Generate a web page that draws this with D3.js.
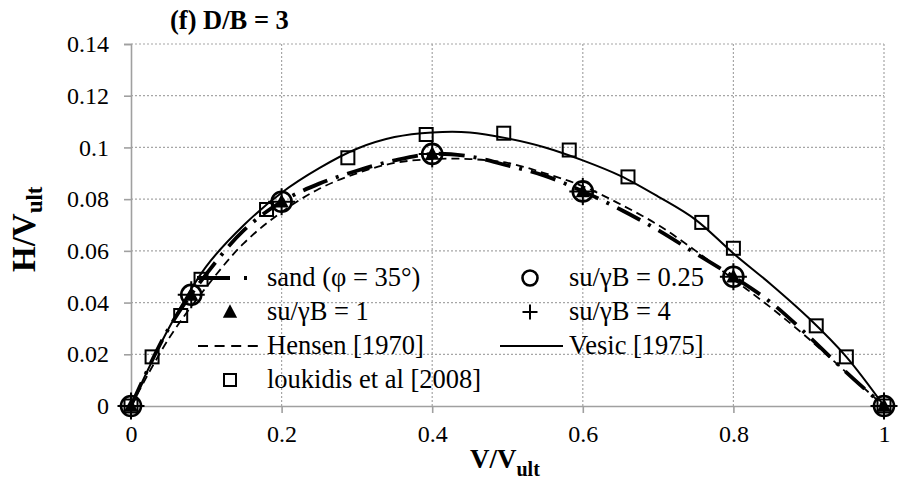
<!DOCTYPE html>
<html>
<head>
<meta charset="utf-8">
<script src="https://cdn.jsdelivr.net/npm/d3@7"></script>
<style>
  body { margin: 0; background: #fff; }
  svg text { font-family: "Liberation Serif", "Times New Roman", serif; }
</style>
</head>
<body>
<div id="chart"></div>
<script>
// datos
var xTicks = [0, 0.2, 0.4, 0.6, 0.8, 1];
var yTicks = [0, 0.02, 0.04, 0.06, 0.08, 0.1, 0.12, 0.14];

// puntos de los ensayos su/gammaB (mismas abscisas)
var suV = [0, 0.08, 0.2, 0.4, 0.6, 0.8, 1];
var su025 = [0, 0.043, 0.079, 0.0975, 0.083, 0.050, 0];
var su1 = [0, 0.043, 0.079, 0.0975, 0.083, 0.050, 0];
var su4 = [0, 0.043, 0.079, 0.0975, 0.083, 0.050, 0];

// curvas
var curveV = [0, 0.05, 0.1, 0.15, 0.2, 0.25, 0.3, 0.35, 0.4, 0.45, 0.5, 0.55, 0.6, 0.65, 0.7, 0.75, 0.8, 0.85, 0.9, 0.95, 1];
var sand = [0, 0.030, 0.051, 0.068, 0.079, 0.086, 0.091, 0.095, 0.0975, 0.0965, 0.093, 0.089, 0.083, 0.076, 0.068, 0.059, 0.050, 0.040, 0.027, 0.013, 0];
var hensen = [0, 0.026, 0.046, 0.063, 0.075, 0.084, 0.090, 0.094, 0.0955, 0.0955, 0.094, 0.090, 0.085, 0.078, 0.070, 0.060, 0.049, 0.038, 0.026, 0.013, 0];
var vesic = [0, 0.030, 0.054, 0.070, 0.0825, 0.092, 0.0995, 0.104, 0.1058, 0.1058, 0.1035, 0.100, 0.095, 0.089, 0.081, 0.072, 0.059, 0.047, 0.034, 0.019, 0];

// loukidis et al [2008]
var loukV = [0, 0.028, 0.066, 0.093, 0.18, 0.288, 0.392, 0.495, 0.582, 0.66, 0.758, 0.80, 0.91, 0.95, 1];
var loukH = [0, 0.019, 0.035, 0.049, 0.076, 0.096, 0.105, 0.1055, 0.099, 0.0886, 0.071, 0.061, 0.031, 0.019, 0];

var W = 902, H = 482;
var pLeft = 131, pRight = 884, pTop = 44, pBottom = 406;
var serif = "'Liberation Serif', 'Times New Roman', serif";

var svg = d3.select("#chart").append("svg")
    .attr("width", W)
    .attr("height", H);

svg.append("rect").attr("width", W).attr("height", H).attr("fill", "#fff");

var x = d3.scaleLinear().domain([0, 1]).range([pLeft, pRight]);
var y = d3.scaleLinear().domain([0, 0.14]).range([pBottom, pTop]);

var fmt = function(d) { return String(+d.toFixed(2)); };

// rejilla
svg.append("g").selectAll("line")
    .data(yTicks.filter(d => d > 0))
    .enter().append("line")
    .attr("x1", pLeft).attr("x2", pRight)
    .attr("y1", d => y(d)).attr("y2", d => y(d))
    .attr("stroke", "#a6a6a6").attr("stroke-width", 1.2)
    .attr("stroke-dasharray", "2,2");

svg.append("g").selectAll("line")
    .data(xTicks.filter(d => d > 0))
    .enter().append("line")
    .attr("x1", d => x(d)).attr("x2", d => x(d))
    .attr("y1", pTop).attr("y2", pBottom)
    .attr("stroke", "#a6a6a6").attr("stroke-width", 1.2)
    .attr("stroke-dasharray", "2,2");

// ejes
var xAxis = svg.append("g")
    .attr("transform", "translate(0," + pBottom + ")")
    .call(d3.axisBottom(x).tickValues(xTicks).tickFormat(fmt).tickSize(7).tickPadding(12));
var yAxis = svg.append("g")
    .attr("transform", "translate(" + pLeft + ",0)")
    .call(d3.axisLeft(y).tickValues(yTicks).tickFormat(fmt).tickSize(7).tickPadding(15));

[xAxis, yAxis].forEach(function(a) {
    a.attr("font-family", serif).attr("font-size", 24);
    a.select(".domain").attr("stroke", "#a0a0a0").attr("stroke-width", 1.6);
    a.selectAll(".tick line").attr("stroke", "#a0a0a0").attr("stroke-width", 1.6);
    a.selectAll("text").attr("fill", "#000");
});

// curvas
function pts(xs, ys) { return xs.map((v, i) => [v, ys[i]]); }
var line = d3.line().x(d => x(d[0])).y(d => y(d[1])).curve(d3.curveCatmullRom.alpha(0.5));

svg.append("path").datum(pts(curveV, vesic))
    .attr("d", line).attr("fill", "none")
    .attr("stroke", "#000").attr("stroke-width", 2);

svg.append("path").datum(pts(curveV, hensen))
    .attr("d", line).attr("fill", "none")
    .attr("stroke", "#000").attr("stroke-width", 1.8)
    .attr("stroke-dasharray", "8,5");

svg.append("path").datum(pts(curveV, sand))
    .attr("d", line).attr("fill", "none")
    .attr("stroke", "#000").attr("stroke-width", 3.8)
    .attr("stroke-dasharray", "26,9,3,9");

// marcadores
var sym = {
    circle: function(g, cx, cy, r) {
        g.append("circle").attr("cx", cx).attr("cy", cy).attr("r", r)
            .attr("fill", "none").attr("stroke", "#000").attr("stroke-width", 2.6);
    },
    triangle: function(g, cx, cy, s) {
        g.append("path")
            .attr("d", "M" + cx + "," + (cy - s * 0.6) + "L" + (cx + s * 0.55) + "," + (cy + s * 0.45) + "L" + (cx - s * 0.55) + "," + (cy + s * 0.45) + "Z")
            .attr("fill", "#000");
    },
    plus: function(g, cx, cy, s) {
        g.append("path")
            .attr("d", "M" + (cx - s) + "," + cy + "H" + (cx + s) + "M" + cx + "," + (cy - s) + "V" + (cy + s))
            .attr("stroke", "#000").attr("stroke-width", 2);
    },
    square: function(g, cx, cy, s) {
        g.append("rect").attr("x", cx - s / 2).attr("y", cy - s / 2)
            .attr("width", s).attr("height", s)
            .attr("fill", "none").attr("stroke", "#000").attr("stroke-width", 2);
    }
};

var mk = svg.append("g");
loukV.forEach(function(v, i) { sym.square(mk, x(v), y(loukH[i]), 13); });
suV.forEach(function(v, i) { sym.circle(mk, x(v), y(su025[i]), 10); });
suV.forEach(function(v, i) { sym.triangle(mk, x(v), y(su1[i]), 13); });
suV.forEach(function(v, i) { sym.plus(mk, x(v), y(su4[i]), 13.5); });

// leyenda
var lg = svg.append("g").attr("font-family", serif).attr("font-size", 26.5);
var rows = [278, 312, 346, 380];
function label(tx, ty, t) {
    lg.append("text").attr("x", tx).attr("y", ty + 8).text(t);
}
lg.append("line").attr("x1", 197).attr("x2", 258).attr("y1", rows[0]).attr("y2", rows[0])
    .attr("stroke", "#000").attr("stroke-width", 4).attr("stroke-dasharray", "33,14,3,40");
label(267, rows[0], "sand (φ = 35°)");
sym.triangle(lg, 230, rows[1], 13);
label(267, rows[1], "su/γB = 1");
lg.append("line").attr("x1", 198).attr("x2", 258).attr("y1", rows[2]).attr("y2", rows[2])
    .attr("stroke", "#000").attr("stroke-width", 2).attr("stroke-dasharray", "10,6.6");
label(267, rows[2], "Hensen [1970]");
sym.square(lg, 230, rows[3], 12);
label(267, rows[3], "loukidis et al [2008]");

sym.circle(lg, 530, rows[0], 7.5);
label(569, rows[0], "su/γB = 0.25");
sym.plus(lg, 530, rows[1], 7.5);
label(569, rows[1], "su/γB = 4");
lg.append("line").attr("x1", 500).attr("x2", 563).attr("y1", rows[2]).attr("y2", rows[2])
    .attr("stroke", "#000").attr("stroke-width", 2);
label(569, rows[2], "Vesic [1975]");

// titulos
svg.append("text").attr("x", 170).attr("y", 29)
    .attr("font-family", serif).attr("font-size", 26.5).attr("font-weight", "bold")
    .text("(f) D/B = 3");

var xt = svg.append("text").attr("x", 470).attr("y", 468)
    .attr("font-family", serif).attr("font-size", 27).attr("font-weight", "bold");
xt.append("tspan").text("V/V");
xt.append("tspan").attr("dy", 8).attr("font-size", 20).text("ult");

var yt = svg.append("text")
    .attr("transform", "translate(35,272) rotate(-90)")
    .attr("font-family", serif).attr("font-size", 33).attr("font-weight", "bold");
yt.append("tspan").text("H/V");
yt.append("tspan").attr("dy", 7).attr("font-size", 23).text("ult");
</script>
</body>
</html>
